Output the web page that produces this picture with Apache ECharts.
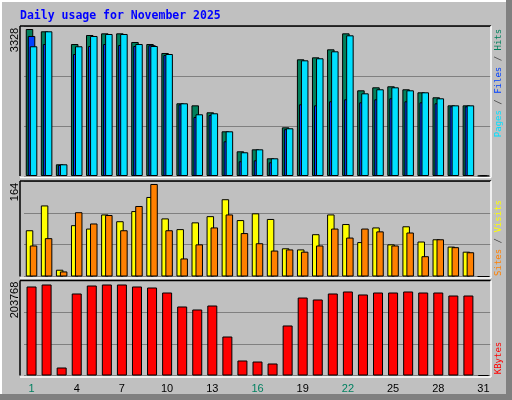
<!DOCTYPE html>
<html><head><meta charset="utf-8">
<script src="https://cdn.jsdelivr.net/npm/echarts@6/dist/echarts.min.js"></script>
<style>html,body{margin:0;padding:0;background:#C0C0C0}#c{width:512px;height:400px}</style>
</head><body><div id="c"></div>
<script>
const days = ['1','2','3','4','5','6','7','8','9','10','11','12','13','14','15','16','17','18','19','20','21','22','23','24','25','26','27','28','29','30','31'];
const weekendDays = ['1','2','8','9','15','16','22','23','29','30'];
const hits  = [3328,3276,265,2988,3192,3230,3230,3034,2988,2785,1646,1600,1442,1012,559,604,401,1102,2642,2687,2868,3230,1940,2008,2031,1963,1895,1782,1600,1600,0];
const files = [2937,3276,265,2937,3170,3215,3215,2988,2943,2762,1646,1397,1420,1012,537,604,401,1080,2619,2665,2823,3185,1872,1963,2008,1940,1895,1759,1600,1600,0];
const pages = [3170,2988,250,2762,2943,2988,2966,2943,2960,2740,1623,1336,1381,786,333,355,310,1060,1623,1600,1691,1736,1668,1736,1759,1691,1668,1646,1578,1578,0];
const visits = [82,126,12,91,85,110,98,116,141,103,84,96,107,137,100,112,102,50,48,75,110,93,61,87,57,89,62,66,53,44,0];
const sites  = [55,68,9,114,94,109,82,125,164,82,32,57,87,110,77,59,46,48,44,55,85,69,85,80,55,78,36,66,52,43,0];
const kbytes = [199270,203768,17900,183600,201500,203768,203768,199270,197000,185800,154500,147800,156700,87300,33600,31300,26900,112000,174600,170200,183600,188100,181400,185800,185800,188100,185800,185800,179100,179100,0];
const maxLabels = ['3328','164','203768'];
const titleText = 'Daily usage for November 2025';

const chart = echarts.init(document.getElementById('c'));
const panels = [{top:26,h:150},{top:181,h:95.5},{top:280.5,h:95}];
const axMax = [3396, 169.3, 212700];
const bord = {borderColor:'#000',borderWidth:1};
function xa(i, show){return {type:'category',gridIndex:i,data:days,axisLine:{show:false},axisTick:{show:false},
  axisLabel:{show:show,margin:8,fontFamily:'Liberation Sans',fontSize:11,
    formatter:v=>weekendDays.includes(v)?'{w|'+v+'}':'{k|'+v+'}',
    rich:{w:{color:'#008060',fontFamily:'Liberation Sans',fontSize:11},k:{color:'#000',fontFamily:'Liberation Sans',fontSize:11}}}};}
function ya(i){return {type:'value',gridIndex:i,min:0,max:axMax[i],interval:axMax[i]/3,axisLabel:{show:false},axisLine:{show:false},axisTick:{show:false},
  splitLine:{lineStyle:{color:'#808080',width:1}}};}
function frame(p){const y0=p.top, y1=p.top+p.h;return [
  {type:'line',shape:{x1:20,y1:y0,x2:491,y2:y0},style:{stroke:'#000',lineWidth:1.5},z:10},
  {type:'line',shape:{x1:20,y1:y0,x2:20,y2:y1},style:{stroke:'#000',lineWidth:1.5},z:10},
  {type:'line',shape:{x1:20,y1:y1+1.5,x2:491,y2:y1+1.5},style:{stroke:'#fff',lineWidth:1.5},z:10},
  {type:'line',shape:{x1:491,y1:y0,x2:491,y2:y1+1.5},style:{stroke:'#fff',lineWidth:1.5},z:10}];}
function vtext(x,y,rich,segs){return {type:'text',x:x,y:y,rotation:Math.PI/2,z:10,
  style:{text:segs,rich:rich,align:'center',verticalAlign:'middle',font:'9px "DejaVu Sans Mono"'}};}
const mono='"DejaVu Sans Mono"';
const rs=(c)=>({fill:c,fontFamily:mono,fontSize:9});
const graphics=[
  {type:'rect',shape:{x:0,y:0,width:512,height:400},style:{fill:'#808080'},z:0},
  {type:'rect',shape:{x:0,y:0,width:506,height:394},style:{fill:'#fff'},z:0},
  {type:'rect',shape:{x:2,y:2,width:504,height:392},style:{fill:'#C0C0C0'},z:0},
  {type:'text',x:20,y:16,z:10,style:{text:titleText,fill:'#0000FF',font:'bold 11.5px "DejaVu Sans Mono"',verticalAlign:'middle'}},
  ...frame(panels[0]),...frame(panels[1]),...frame(panels[2]),
  {type:'text',x:15,y:40,rotation:Math.PI/2,z:10,style:{text:maxLabels[0],fill:'#000',font:'11px "Liberation Sans"',align:'center',verticalAlign:'middle'}},
  {type:'text',x:15,y:192,rotation:Math.PI/2,z:10,style:{text:maxLabels[1],fill:'#000',font:'11px "Liberation Sans"',align:'center',verticalAlign:'middle'}},
  {type:'text',x:15,y:300,rotation:Math.PI/2,z:10,style:{text:maxLabels[2],fill:'#000',font:'11px "Liberation Sans"',align:'center',verticalAlign:'middle'}},
  vtext(499,83,{p:rs('#00E0FF'),s:rs('#404040'),f:rs('#0040FF'),h:rs('#00805C')},'{p|Pages}{s| / }{f|Files}{s| / }{h|Hits}'),
  vtext(499,238,{a:rs('#FF8000'),s:rs('#404040'),b:rs('#FFFF00')},'{a|Sites}{s| / }{b|Visits}'),
  vtext(499,358,{r:rs('#FF0000')},'{r|KBytes}')
];
chart.setOption({
  animation:false,backgroundColor:'transparent',
  grid:panels.map(p=>({left:24,right:21,top:p.top,height:p.h,show:false})),
  xAxis:[xa(0,false),xa(1,false),xa(2,true)],
  yAxis:[ya(0),ya(1),ya(2)],
  graphic:graphics,
  series:[
    {type:'bar',xAxisIndex:0,yAxisIndex:0,data:hits,barWidth:7.5,barGap:'-73%',itemStyle:Object.assign({color:'#00805C'},bord)},
    {type:'bar',xAxisIndex:0,yAxisIndex:0,data:pages,barWidth:7.5,barGap:'-73%',itemStyle:Object.assign({color:'#0040FF'},bord)},
    {type:'bar',xAxisIndex:0,yAxisIndex:0,data:files,barWidth:7.5,barGap:'-73%',itemStyle:Object.assign({color:'#00E0FF'},bord)},
    {type:'bar',xAxisIndex:1,yAxisIndex:1,data:visits,barWidth:7.5,barGap:'-47%',itemStyle:Object.assign({color:'#FFFF00'},bord)},
    {type:'bar',xAxisIndex:1,yAxisIndex:1,data:sites,barWidth:7.5,barGap:'-47%',itemStyle:Object.assign({color:'#FF8000'},bord)},
    {type:'bar',xAxisIndex:2,yAxisIndex:2,data:kbytes,barWidth:10,itemStyle:Object.assign({color:'#FF0000'},bord)}
  ]
});
</script></body></html>
